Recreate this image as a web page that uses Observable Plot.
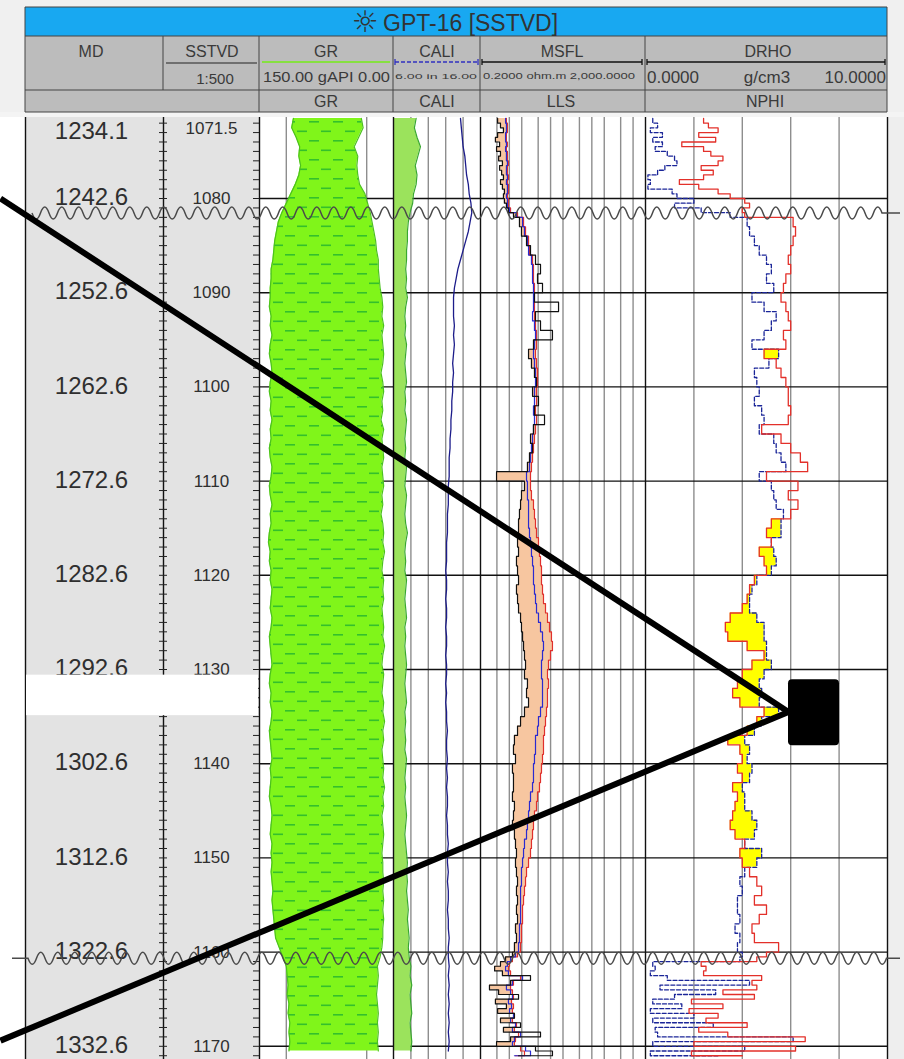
<!DOCTYPE html>
<html>
<head>
<meta charset="utf-8">
<script src="https://cdn.jsdelivr.net/npm/d3@7"></script>
<script src="https://cdn.jsdelivr.net/npm/@observablehq/plot@0.6"></script>
<style>
  html, body { margin: 0; padding: 0; background: #fff; }
  #chart { position: relative; width: 904px; height: 1059px; overflow: hidden; background: #fff; }
  .layer { position: absolute; overflow: hidden; }
  .layer svg { display: block; }
</style>
</head>
<body>
<svg width="0" height="0" style="position:absolute;left:0;top:0">
  <defs>
    <pattern id="shale" patternUnits="userSpaceOnUse" width="24" height="19">
      <rect width="24" height="19" fill="#80f51a"></rect>
      <rect x="2" y="4" width="10" height="1.6" fill="#34c02c"></rect>
      <rect x="14" y="13.5" width="10" height="1.6" fill="#34c02c"></rect>
    </pattern>
  </defs>
</svg>
<div id="chart"></div>
<script>
// ---------------- DATA ----------------
// Depth samples (SSTVD, m) for GR / CALI curves
const depthA = [1071.5,1072.5,1073.5,1074.5,1075.5,1076.5,1077.5,1078.5,1079.5,1080.5,
  1081.5,1082.5,1083.5,1084.5,1085.5,1086.5,1087.5,1088.5,1089.5,1090.5,
  1091.5,1092.5,1093.5,1094.5,1095.5,1096.5,1097.5,1098.5,1099.5,1100.5,
  1101.5,1102.5,1103.5,1104.5,1105.5,1106.5,1107.5,1108.5,1109.5,1110.5,
  1111.5,1112.5,1113.5,1114.5,1115.5,1116.5,1117.5,1118.5,1119.5,1120.5,
  1121.5,1122.5,1123.5,1124.5,1125.5,1126.5,1127.5,1128.5,1129.5,1130.5,
  1131.5,1132.5,1133.5,1134.5,1135.5,1136.5,1137.5,1138.5,1139.5,1140.5,
  1141.5,1142.5,1143.5,1144.5,1145.5,1146.5,1147.5,1148.5,1149.5,1150.5,
  1151.5,1152.5,1153.5,1154.5,1155.5,1156.5,1157.5,1158.5,1159.5,1160.5,
  1161.5,1162.5,1163.5,1164.5,1165.5,1166.5,1167.5,1168.5,1169.5,1170.5];
// GR shale fill edges (gAPI, scale 150 -> 0)
const grLeft = [112,114,109,105,106,104,106,110,115,120,
  125,129,131,133,134,135,137,137,138,138,
  139,137,138,136,138,139,137,136,138,139,
  137,138,136,138,137,139,138,136,137,139,
  138,136,138,137,139,140,138,139,137,138,
  136,137,138,136,137,139,138,137,136,138,
  139,137,138,136,137,139,138,137,136,138,
  137,138,139,137,136,137,138,136,137,136,
  137,136,135,136,135,134,133,132,128,124,
  120,119,118,119,117,118,116,117,116,117];
const grRight = [36,34,39,44,40,41,40,38,32,29,
  26,24,22,20,19,17,17,16,15,13,
  12,13,11,13,12,11,12,14,12,11,
  13,12,14,11,13,12,11,13,12,11,
  13,12,14,12,11,12,10,12,13,11,
  12,11,13,12,11,12,10,12,13,11,
  12,13,11,12,10,12,11,13,12,11,
  12,10,12,11,13,12,11,12,13,12,
  12,11,12,11,12,11,12,12,13,15,
  18,17,18,19,18,17,18,17,18,17];
// CALI track, green curve (in)
const caliGreen = [8.6,8.4,8.7,9.1,8.8,8.5,8.7,8.6,8.3,8.2,
  7.9,7.7,7.6,7.6,7.5,7.5,7.4,7.5,7.4,7.6,
  7.4,7.3,7.4,7.3,7.5,7.4,7.3,7.4,7.5,7.3,
  7.4,7.3,7.5,7.4,7.3,7.4,7.3,7.5,7.4,7.3,
  7.5,7.4,7.3,7.4,7.6,7.4,7.3,7.4,7.3,7.5,
  7.4,7.3,7.4,7.5,7.3,7.4,7.3,7.4,7.5,7.4,
  7.3,7.4,7.5,7.3,7.4,7.3,7.4,7.3,7.5,7.4,
  7.3,7.4,7.3,7.4,7.5,7.4,7.3,7.4,7.5,7.6,
  7.5,7.6,7.5,7.6,7.7,7.6,7.7,7.8,7.7,7.8,
  8.0,7.9,8.1,7.9,8.0,8.1,7.9,8.0,8.1,8.0];
// CALI track, blue curve (in)
const caliBlue = [13.7,13.8,13.9,14.0,14.2,14.3,14.4,14.6,14.7,14.9,
  15.0,14.8,14.6,14.3,14.0,13.7,13.4,13.2,13.0,12.9,
  12.9,12.9,13.0,12.9,13.0,12.9,12.8,12.9,12.8,12.8,
  12.7,12.7,12.6,12.6,12.5,12.5,12.4,12.4,12.4,12.3,
  12.3,12.3,12.2,12.2,12.2,12.1,12.1,12.1,12.0,12.1,
  12.1,12.0,12.1,12.1,12.0,12.1,12.1,12.0,12.1,12.1,
  12.0,12.1,12.0,12.1,12.1,12.2,12.1,12.1,12.2,12.1,
  12.2,12.1,12.2,12.2,12.1,12.2,12.2,12.3,12.2,12.2,
  12.3,12.2,12.3,12.3,12.2,12.3,12.3,12.4,12.3,12.3,
  12.4,12.3,12.4,12.3,12.4,12.3,12.4,12.3,12.4,12.3];

// Depth samples (SSTVD, m) for resistivity and density/neutron curves
const depthB = [1071.5,1072,1072.5,1073,1073.5,1074,1074.5,1075,1075.5,1076,1076.5,
  1077,1077.5,1078,1078.5,1079,1079.5,1080,1080.5,1081,1081.5,1082,
  1083,1084,1085,1086,1087,1088,1089,1090,1091,1092,
  1093,1094,1095,1096,1097,1098,1099,1100,1101,1102,
  1103,1104,1105,1106,1107,1108,1109,1110,1111,1112,
  1113,1114,1115,1116,1117,1118,1119,1120,1121,1122,
  1123,1124,1125,1126,1127,1128,1129,1130,1131,1132,
  1133,1134,1135,1136,1137,1138,1139,1140,1141,1142,
  1143,1144,1145,1146,1147,1148,1149,1150,1151,1152,
  1153,1154,1155,1156,1157,1158,1159,1160,
  1160.5,1161,1161.5,1162,1162.5,1163,1163.5,1164,1164.5,1165,1165.5,
  1166,1166.5,1167,1167.5,1168,1168.5,1169,1169.5,1170,1170.5,1171];
// MSFL (ohm.m, black)
const msfl = [0.52,0.61,0.72,0.52,0.46,0.58,0.49,0.61,0.55,0.68,0.58,
  0.65,0.72,0.61,0.68,0.76,0.72,0.76,0.85,0.95,1.26,1.76,
  1.97,2.61,3.26,4.31,5.70,4.82,6.37,4.07,15.6,4.31,
  5.70,11.1,3.85,2.92,3.44,4.07,4.56,3.65,5.09,4.07,
  7.13,3.85,3.26,3.65,3.08,2.75,0.49,2.33,1.97,1.87,
  1.76,1.67,1.67,1.58,1.67,1.49,1.58,1.67,1.49,1.58,
  1.67,1.87,1.97,2.09,2.21,2.33,2.47,2.33,2.75,2.61,
  2.92,2.33,1.87,1.58,1.33,1.26,1.41,1.19,1.26,1.26,
  1.19,1.33,1.26,1.19,1.33,1.41,1.49,1.41,1.49,1.58,
  1.49,1.58,1.49,1.58,1.41,1.49,1.33,1.19,
  0.81,0.61,0.44,0.68,3.26,1.07,0.33,0.55,1.67,0.46,0.85,
  0.52,1.33,0.61,1.87,0.72,5.70,1.07,0.49,4.31,11.1,1.67];
// LLS (ohm.m, blue)
const lls = [0.81,0.85,0.85,0.81,0.81,0.85,0.81,0.85,0.85,0.90,0.85,
  0.85,0.90,0.85,0.90,0.90,0.85,0.90,0.90,1.01,1.49,2.09,
  2.33,2.75,2.92,3.44,3.65,3.65,3.85,3.85,3.85,3.65,
  4.07,4.31,4.07,3.85,4.07,4.31,4.31,4.07,4.07,3.85,
  4.07,3.85,3.65,3.44,3.26,3.08,2.61,2.75,2.75,2.92,
  2.92,2.92,3.08,3.26,3.44,3.65,3.85,3.85,4.07,4.31,
  4.56,5.09,5.70,6.37,6.73,6.37,6.02,6.02,6.37,6.37,
  6.37,5.70,5.09,4.82,4.31,4.31,4.07,3.85,3.85,3.65,
  3.26,3.08,2.92,2.75,2.61,2.33,2.21,2.09,1.97,1.97,
  1.87,1.87,1.87,1.87,1.76,1.76,1.67,1.41,
  1.07,0.90,0.81,0.95,2.09,1.19,0.85,1.07,1.19,0.95,1.13,
  1.01,1.26,1.07,1.41,1.19,1.87,1.33,1.19,2.47,3.26,1.33];
// LLD (ohm.m, red)
const lld = [0.85,0.90,0.90,0.85,0.85,0.90,0.85,0.90,0.90,0.95,0.90,
  0.90,0.95,0.90,0.95,0.95,0.90,0.95,0.95,1.07,1.58,2.21,
  2.47,2.92,3.08,3.65,3.85,3.85,4.07,4.07,4.07,4.07,
  4.31,4.56,4.56,4.31,4.56,4.82,4.82,4.56,4.56,4.31,
  4.56,4.31,4.07,3.85,3.65,3.44,3.26,3.26,3.44,3.85,
  4.07,4.31,4.56,5.09,5.38,5.70,6.02,6.02,6.37,6.73,
  7.53,8.42,9.42,10.5,11.1,9.95,8.9,8.42,8.9,8.42,
  8.42,7.96,7.53,7.13,6.73,6.73,6.37,6.02,5.70,5.38,
  4.82,4.56,4.07,3.85,3.65,3.44,3.26,2.92,2.61,2.47,
  2.33,2.21,2.09,2.09,1.97,1.97,1.87,1.58,
  1.19,1.01,0.95,1.07,1.87,1.26,1.07,1.19,1.26,1.13,1.26,
  1.19,1.33,1.19,1.49,1.33,1.67,1.41,1.33,1.87,2.33,1.41];
// NPHI (red, right track units 0-10)
const nphi = [2.4,2.6,3.0,2.2,2.9,1.5,2.4,2.7,3.2,3.0,2.3,
  2.8,2.4,1.4,2.2,3.0,3.5,4.1,4.3,4.0,4.1,6.1,
  6.2,6.1,6.0,5.9,6.0,5.8,5.7,5.6,5.8,5.9,
  6.0,5.7,5.8,4.9,5.4,5.6,5.8,5.9,5.9,6.0,
  5.9,4.8,5.6,6.0,6.4,6.7,5.0,6.3,5.9,6.3,
  6.0,5.2,5.0,5.2,4.7,4.9,5.0,4.5,4.3,4.2,
  4.0,3.5,3.3,3.4,4.2,4.9,4.4,4.0,3.8,3.6,
  3.9,4.9,4.6,4.2,3.4,3.9,4.0,3.8,4.0,3.6,
  3.8,3.7,3.6,3.5,3.7,4.1,3.9,4.0,4.3,4.6,
  4.8,4.5,5.0,4.7,4.4,4.5,5.5,5.0,
  4.6,2.3,2.5,2.4,4.8,4.4,4.6,3.2,4.5,1.9,3.2,
  1.8,3.0,2.5,4.2,2.2,3.4,6.6,2.0,6.2,1.9,4.0];
// DRHO (blue dashed, right track units 0-10)
const drho = [0.3,0.5,0.2,0.7,0.3,0.7,0.4,0.9,1.2,1.3,0.8,
  0.5,0.1,0.2,0.1,1.1,1.3,2.0,1.2,2.3,3.5,4.2,
  4.3,4.5,4.7,5.0,5.2,5.0,5.3,4.4,4.9,5.4,
  5.2,4.9,4.4,5.5,5.1,4.5,4.6,4.7,4.5,4.8,
  4.9,4.7,5.3,5.4,5.6,5.8,4.7,5.2,5.3,5.4,
  5.7,5.6,5.6,5.2,5.3,5.4,5.2,4.6,4.4,4.3,
  4.3,4.6,4.9,4.9,5.0,5.0,5.2,4.9,4.7,4.8,
  4.7,5.5,4.8,4.5,4.1,4.3,4.2,4.4,4.3,4.0,
  4.1,4.1,4.4,4.6,4.5,4.1,4.8,4.6,4.1,3.9,
  4.0,3.8,3.8,3.9,3.7,3.9,3.8,4.0,
  3.9,0.3,0.4,0.2,0.9,4.3,0.6,2.9,1.2,0.3,1.5,
  0.2,2.0,0.3,2.8,0.4,0.5,6.1,0.3,4.1,0.2,3.0];

// Depth labels
const labelDepths = [1071.5,1080,1090,1100,1110,1120,1130,1140,1150,1160,1170];
const mdLabels = ["1234.1","1242.6","1252.6","1262.6","1272.6","1282.6","1292.6","1302.6","1312.6","1322.6","1332.6"];
const sstvdLabels = ["1071.5","1080","1090","1100","1110","1120","1130","1140","1150","1160","1170"];
const majorDepths = [1080,1090,1100,1110,1120,1130,1140,1150,1160,1170];
// Track grid values
const grGrid = [120, 30];
const caliGrid = [8, 10, 12, 14];
const resGrid = [0.5, 1, 2, 5, 10, 20, 50, 100, 200, 500, 1000];
const drhoGrid = [2, 4, 6, 8];
// Depth breaks and highlighted interval
const breakDepths = [1081.6, 1160.7];
const highlightBand = [{top: 1130.6, bottom: 1134.9}];
// Callout annotation (x in page pixels, y in SSTVD)
const calloutLines = [
  {xa: 0, da: 1080.0, xb: 788, db: 1134.5},
  {xa: 0, da: 1169.4, xb: 788, db: 1134.5}
];
const calloutBox = [{xa: 788, xb: 839, da: 1131.1, db: 1138.1}];

// ---------------- LAYOUT ----------------
const FONT = '"Liberation Sans", Arial, Helvetica, sans-serif';
const W = 904, BODY_TOP = 117, BODY_H = 942;
const yDomain = [1071.4, 1171.4];
const columnEdges = [25, 163, 259, 393, 480, 645, 887];
const GRID = "#8e8e8e";
const chart = document.getElementById("chart");

function place(node, x, y, w, h, z) {
  const div = document.createElement("div");
  div.className = "layer";
  Object.assign(div.style, {left: x + "px", top: y + "px", width: w + "px", height: h + "px", zIndex: z});
  div.appendChild(node);
  chart.appendChild(div);
  return div;
}

const rowsA = depthA.map((d, i) => ({depth: d, grL: grLeft[i], grR: grRight[i], caliG: caliGreen[i], caliB: caliBlue[i]}));
const rowsB = depthB.map((d, i) => ({depth: d, msfl: msfl[i], lls: lls[i], lld: lld[i], nphi: nphi[i], drho: drho[i]}));
const mdRows = labelDepths.map((d, i) => ({depth: d, label: mdLabels[i]}));
const sstvdRows = labelDepths.map((d, i) => ({depth: d, label: sstvdLabels[i]}));

const yOpt = {domain: yDomain, range: [0, BODY_H], axis: null};

function track(width, xOpt, marks, bg) {
  return Plot.plot({
    width, height: BODY_H, margin: 0,
    x: Object.assign({axis: null}, xOpt),
    y: yOpt,
    style: {background: bg || "#fff", overflow: "hidden"},
    marks
  });
}

// ---------------- HEADER ----------------
const hdr = d3.create("svg").attr("width", W).attr("height", BODY_TOP).attr("font-family", FONT).style("display", "block");
hdr.append("rect").attr("width", W).attr("height", BODY_TOP).attr("fill", "#f0f0f0");
hdr.append("rect").attr("x", 25).attr("y", 7).attr("width", 862).attr("height", 29).attr("fill", "#18a8f1");
hdr.append("rect").attr("x", 25).attr("y", 36).attr("width", 862).attr("height", 76).attr("fill", "#bcbcbc");
hdr.append("rect").attr("x", 0).attr("y", 112).attr("width", W).attr("height", 5).attr("fill", "#f4f4f4");
function hl(x1, y1, x2, y2, stroke, sw, dash) {
  const l = hdr.append("line").attr("x1", x1).attr("y1", y1).attr("x2", x2).attr("y2", y2)
    .attr("stroke", stroke || "#444").attr("stroke-width", sw || 1);
  if (dash) l.attr("stroke-dasharray", dash);
}
hl(25, 7, 887, 7); hl(25, 36, 887, 36); hl(25, 90, 887, 90); hl(25, 112, 887, 112);
hl(25, 7, 25, 112); hl(887, 7, 887, 112);
hl(163, 36, 163, 90);
[259, 393, 480, 645].forEach(x => hl(x, 36, x, 112));
hl(166, 63, 257, 63, "#222", 1.2);
hl(262, 62, 390, 62, "#86e040", 2);
hl(395, 62, 478, 62, "#3030c0", 1.3, "4,2"); hl(395, 59, 395, 65, "#3030c0", 1.3); hl(478, 59, 478, 65, "#3030c0", 1.3);
hl(482, 62, 642, 62, "#111", 1.3); hl(482, 59, 482, 65, "#111", 1.3); hl(642, 59, 642, 65, "#111", 1.3);
hl(647, 62, 885, 62, "#111", 1.3); hl(647, 59, 647, 65, "#111", 1.3); hl(885, 59, 885, 65, "#111", 1.3);
function ht(x, y, s, size, anchor, len, family, fill, weight) {
  const t = hdr.append("text").attr("x", x).attr("y", y).attr("font-size", size)
    .attr("text-anchor", anchor || "middle").attr("fill", fill || "#3a3a3a").text(s);
  if (family) t.attr("font-family", family);
  if (weight) t.attr("font-weight", weight);
  if (len) t.attr("textLength", len).attr("lengthAdjust", "spacingAndGlyphs");
}
ht(365, 32, "\u263C", 30, "middle", null, '"DejaVu Sans", sans-serif', "#333", "bold");
ht(383, 31, "GPT-16 [SSTVD]", 23, "start", null, null, "#333");
ht(91, 57, "MD", 16); ht(212, 57, "SSTVD", 16); ht(326, 57, "GR", 16);
ht(437, 57, "CALI", 16); ht(562, 57, "MSFL", 16); ht(768, 57, "DRHO", 16);
ht(215, 84, "1:500", 15);
ht(263, 82, "150.00 gAPI 0.00", 14, "start", 127);
ht(395, 79, "6.00 in 16.00", 8, "start", 82);
ht(483, 79, "0.2000 ohm.m 2,000.0000", 9, "start", 152);
ht(647, 83, "0.0000", 17, "start"); ht(767, 83, "g/cm3", 17); ht(886, 83, "10.0000", 17, "end");
ht(326, 107, "GR", 16); ht(437, 107, "CALI", 16); ht(561, 107, "LLS", 16); ht(765, 107, "NPHI", 16);
place(hdr.node(), 0, 0, W, BODY_TOP, 5);

// ---------------- DEPTH COLUMNS ----------------
const labelStyle = {fontFamily: FONT, fill: "#2f2f2f"};
const mdPlot = Plot.plot({
  width: 138, height: BODY_H, margin: 0, y: yOpt,
  style: {background: "#e3e3e3", overflow: "hidden"},
  marks: [
    Plot.text(mdRows.slice(0, 1), {y: "depth", text: "label", frameAnchor: "middle", dx: -3, dy: 13, fontSize: 24, ...labelStyle}),
    Plot.text(mdRows.slice(1), {y: "depth", text: "label", frameAnchor: "middle", dx: -3, dy: -1, fontSize: 24, ...labelStyle})
  ]
});
place(mdPlot, 25, BODY_TOP, 138, BODY_H, 1);

const sstvdPlot = Plot.plot({
  width: 96, height: BODY_H, margin: 0, y: yOpt,
  style: {background: "#e3e3e3", overflow: "hidden"},
  marks: [
    Plot.text(sstvdRows.slice(0, 1), {y: "depth", text: "label", frameAnchor: "middle", dy: 10, fontSize: 17, ...labelStyle}),
    Plot.text(sstvdRows.slice(1), {y: "depth", text: "label", frameAnchor: "middle", fontSize: 17, ...labelStyle})
  ]
});
place(sstvdPlot, 163, BODY_TOP, 96, BODY_H, 1);

// ---------------- GR TRACK ----------------
const grPlot = track(134, {domain: [150, 0]}, [
  Plot.ruleX(grGrid, {stroke: GRID, strokeWidth: 1.4}),
  Plot.ruleY(majorDepths, {stroke: "#111", strokeWidth: 1.4}),
  Plot.areaX(rowsA, {y: "depth", x1: "grL", x2: "grR", fill: "url(#shale)"}),
  Plot.lineX(rowsA, {y: "depth", x: "grL", stroke: "#4cc21e", strokeWidth: 1.2}),
  Plot.lineX(rowsA, {y: "depth", x: "grR", stroke: "#4cc21e", strokeWidth: 1.2})
]);
place(grPlot, 259, BODY_TOP, 134, BODY_H, 1);

// ---------------- CALI TRACK ----------------
const caliPlot = track(87, {domain: [6, 16]}, [
  Plot.ruleX(caliGrid, {stroke: GRID, strokeWidth: 1.4}),
  Plot.ruleY(majorDepths, {stroke: "#111", strokeWidth: 1.4}),
  Plot.areaX(rowsA, {y: "depth", x1: 6, x2: "caliG", fill: "#9be35c"}),
  Plot.lineX(rowsA, {y: "depth", x: "caliG", stroke: "#3aa830", strokeWidth: 1.2}),
  Plot.lineX(rowsA, {y: "depth", x: "caliB", stroke: "#1c1c8a", strokeWidth: 1.3})
]);
place(caliPlot, 393, BODY_TOP, 87, BODY_H, 1);

// ---------------- RESISTIVITY TRACK ----------------
const resPlot = track(165, {type: "log", domain: [0.2, 2000]}, [
  Plot.ruleX(resGrid, {stroke: GRID, strokeWidth: 1.4}),
  Plot.ruleY(majorDepths, {stroke: "#111", strokeWidth: 1.4}),
  Plot.areaX(rowsB, {y: "depth", x1: "msfl", x2: d => Math.max(d.msfl, d.lld), fill: "#f7c6a0", curve: "step-before"}),
  Plot.lineX(rowsB, {y: "depth", x: "lld", stroke: "#e0302c", strokeWidth: 1.2, curve: "step-before"}),
  Plot.lineX(rowsB, {y: "depth", x: "lls", stroke: "#2a2ad0", strokeWidth: 1.2, curve: "step-before"}),
  Plot.lineX(rowsB, {y: "depth", x: "msfl", stroke: "#111", strokeWidth: 1.2, curve: "step-before"})
]);
place(resPlot, 480, BODY_TOP, 165, BODY_H, 1);

// ---------------- DRHO / NPHI TRACK ----------------
const drhoPlot = track(242, {domain: [0, 10]}, [
  Plot.ruleX(drhoGrid, {stroke: GRID, strokeWidth: 1.4}),
  Plot.ruleY(majorDepths, {stroke: "#111", strokeWidth: 1.4}),
  Plot.areaX(rowsB, {y: "depth", x1: "nphi", x2: d => Math.max(d.nphi, d.drho), fill: "#ffff00", curve: "step-before"}),
  Plot.lineX(rowsB, {y: "depth", x: "drho", stroke: "#1a2598", strokeWidth: 1.3, strokeDasharray: "4,2", curve: "step-before"}),
  Plot.lineX(rowsB, {y: "depth", x: "nphi", stroke: "#e3302a", strokeWidth: 1.3, curve: "step-before"})
]);
place(drhoPlot, 645, BODY_TOP, 242, BODY_H, 1);

// right margin strip
const strip = document.createElement("div");
Object.assign(strip.style, {position: "absolute", left: "888px", top: BODY_TOP + "px", width: "16px", height: BODY_H + "px", background: "#eeeeee", zIndex: 1});
chart.appendChild(strip);

// ---------------- STRUCTURE OVERLAY ----------------
const minorTicks = d3.range(1072, 1172, 1);
const overlayA = Plot.plot({
  width: W, height: BODY_H, margin: 0,
  x: {domain: [0, W], range: [0, W], axis: null},
  y: yOpt,
  style: {background: "transparent", overflow: "visible"},
  marks: [
    Plot.ruleX(columnEdges, {stroke: "#111", strokeWidth: 1.4}),
    Plot.ruleY(minorTicks, {x1: 159, x2: 167, stroke: "#222", strokeWidth: 1}),
    Plot.ruleY(minorTicks, {x1: 253, x2: 259, stroke: "#222", strokeWidth: 1}),
    Plot.rect(highlightBand, {y1: "top", y2: "bottom", x1: 26, x2: 258, fill: "#ffffff"})
  ]
});
// break (unconformity) symbols drawn at the break depths via the plot's own y scale
(function () {
  const sc = overlayA.scale("y");
  const fy = sc.apply ? (v => sc.apply(v)) : d3.scaleLinear(sc.domain, sc.range);
  const g = d3.select(overlayA).append("g").attr("fill", "none").attr("stroke", "#4a4a4a").attr("stroke-width", 1.5);
  const shapes = [{from: 32, waveFrom: 32, waveTo: 887, to: 900}, {from: 12, waveFrom: 28, waveTo: 887, to: 900}];
  breakDepths.forEach((b, i) => {
    const y = fy(b), s = shapes[i], h = 8.5, A = 6;
    let p = `M${s.from},${y}L${s.waveFrom},${y}`;
    let x = s.waveFrom, sg = 1;
    while (x + h <= s.waveTo + 0.01) { p += `Q${x + h / 2},${y + 2 * A * sg} ${x + h},${y}`; x += h; sg = -sg; }
    p += `L${s.to},${y}`;
    g.append("path").attr("d", p);
  });
})();
place(overlayA, 0, BODY_TOP, W, BODY_H, 3);

// ---------------- CALLOUT OVERLAY ----------------
const overlayB = Plot.plot({
  width: W, height: BODY_H, margin: 0,
  x: {domain: [0, W], range: [0, W], axis: null},
  y: yOpt,
  style: {background: "transparent"},
  marks: [
    Plot.link(calloutLines, {x1: "xa", y1: "da", x2: "xb", y2: "db", stroke: "#000", strokeWidth: 6}),
    Plot.rect(calloutBox, {x1: "xa", x2: "xb", y1: "da", y2: "db", fill: "#000", rx: 4})
  ]
});
place(overlayB, 0, BODY_TOP, W, BODY_H, 4);
</script>
</body>
</html>
